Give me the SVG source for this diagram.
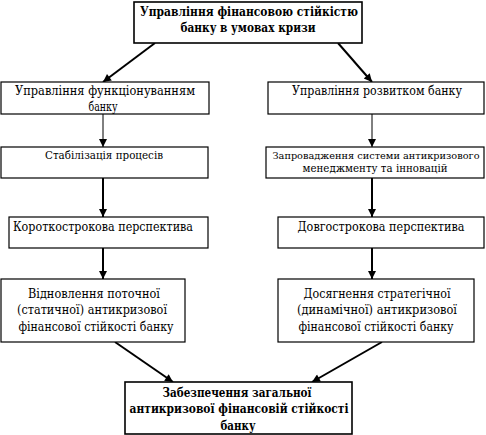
<svg xmlns="http://www.w3.org/2000/svg" width="486" height="435" viewBox="0 0 486 435">
<defs>
<style>
.box{fill:#fff;stroke:#000;stroke-width:1.2}
text{font-family:'DejaVu Serif',serif;font-size:13.5px;fill:#000;text-anchor:middle}
.s{font-size:11.5px}
.r{font-size:12.5px}
.rs{font-size:9.5px}
.b{font-weight:bold}
.c{stroke:#000;fill:none}
.thin{stroke-width:1}
.thick{stroke-width:2}
</style>
<marker id="ah" viewBox="0 0 10 10" refX="10" refY="5" markerWidth="10" markerHeight="8" markerUnits="userSpaceOnUse" orient="auto">
<path d="M0,0 L10,5 L0,10 Z" fill="#000"/>
</marker>
</defs>
<rect width="486" height="435" fill="#fff"/>
<g id="connectors">
<line class="c thick" x1="155" y1="43" x2="103" y2="82" marker-end="url(#ah)"/>
<line class="c thick" x1="338" y1="43" x2="372" y2="82" marker-end="url(#ah)"/>
<line class="c thin" x1="103" y1="114" x2="103" y2="147" marker-end="url(#ah)"/>
<line class="c thin" x1="372" y1="114" x2="372" y2="147" marker-end="url(#ah)"/>
<line class="c thick" x1="103" y1="178" x2="103" y2="217" marker-end="url(#ah)"/>
<line class="c thick" x1="372" y1="178" x2="372" y2="217" marker-end="url(#ah)"/>
<line class="c thick" x1="103" y1="248" x2="103" y2="279" marker-end="url(#ah)"/>
<line class="c thick" x1="372" y1="248" x2="372" y2="279" marker-end="url(#ah)"/>
<line class="c thick" x1="115" y1="342" x2="173" y2="382" marker-end="url(#ah)"/>
<line class="c thick" x1="382" y1="342" x2="312" y2="382" marker-end="url(#ah)"/>
</g>
<g id="n-top">
<rect class="box" x="134" y="2" width="228" height="41" style="stroke-width:1.6"/>
<text class="b" x="249" y="16" textLength="218" lengthAdjust="spacingAndGlyphs">Управління фінансовою стійкістю</text>
<text class="b" x="248" y="32" textLength="135" lengthAdjust="spacingAndGlyphs">банку в умовах кризи</text>
</g>
<g id="n-l2">
<rect class="box" x="1" y="82" width="208" height="32"/>
<text x="105" y="95" textLength="180" lengthAdjust="spacingAndGlyphs">Управління функціонуванням</text>
<text x="103" y="111" textLength="29" lengthAdjust="spacingAndGlyphs">банку</text>
</g>
<g id="n-r2">
<rect class="box" x="268" y="82" width="216" height="32"/>
<text class="r" x="377" y="95" textLength="170" lengthAdjust="spacingAndGlyphs">Управління розвитком банку</text>
</g>
<g id="n-l3">
<rect class="box" x="1" y="147" width="207" height="31"/>
<text class="s" x="104" y="159" textLength="118" lengthAdjust="spacingAndGlyphs">Стабілізація процесів</text>
</g>
<g id="n-r3">
<rect class="box" x="266" y="147" width="218" height="31"/>
<text class="rs" x="376" y="159" textLength="207" lengthAdjust="spacingAndGlyphs">Запровадження системи антикризового</text>
<text class="s" x="375" y="172" textLength="145" lengthAdjust="spacingAndGlyphs">менеджменту та інновацій</text>
</g>
<g id="n-l4">
<rect class="box" x="9" y="217" width="199" height="31"/>
<text x="103" y="231" textLength="180" lengthAdjust="spacingAndGlyphs">Короткострокова перспектива</text>
</g>
<g id="n-r4">
<rect class="box" x="278" y="217" width="206" height="31"/>
<text class="r" x="381" y="231" textLength="167" lengthAdjust="spacingAndGlyphs">Довгострокова перспектива</text>
</g>
<g id="n-l5">
<rect class="box" x="1" y="279" width="184" height="63"/>
<text x="94" y="298" textLength="132" lengthAdjust="spacingAndGlyphs">Відновлення поточної</text>
<text x="92" y="314" textLength="150" lengthAdjust="spacingAndGlyphs">(статичної) антикризової</text>
<text x="96" y="331" textLength="155" lengthAdjust="spacingAndGlyphs">фінансової стійкості банку</text>
</g>
<g id="n-r5">
<rect class="box" x="278" y="279" width="196" height="63"/>
<text x="377" y="298" textLength="147" lengthAdjust="spacingAndGlyphs">Досягнення стратегічної</text>
<text x="377" y="314" textLength="160" lengthAdjust="spacingAndGlyphs">(динамічної) антикризової</text>
<text class="r" x="376" y="331" textLength="155" lengthAdjust="spacingAndGlyphs">фінансової стійкості банку</text>
</g>
<g id="n-bottom">
<rect class="box" x="125" y="382" width="227" height="52" style="stroke-width:1.6"/>
<text class="b" x="237" y="397" textLength="149" lengthAdjust="spacingAndGlyphs">Забезпечення загальної</text>
<text class="b" x="239" y="413" textLength="219" lengthAdjust="spacingAndGlyphs">антикризової фінансовій стійкості</text>
<text class="b" x="238" y="430" textLength="35" lengthAdjust="spacingAndGlyphs">банку</text>
</g>
</svg>
